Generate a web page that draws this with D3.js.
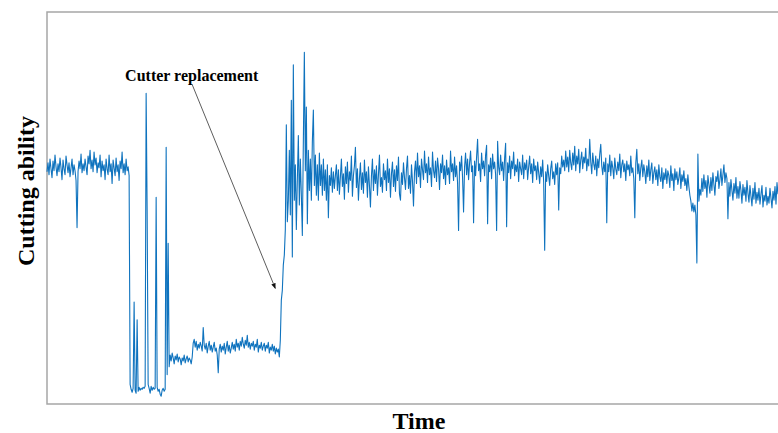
<!DOCTYPE html>
<html>
<head>
  <title>Cutting ability over time</title>
  <script src="https://d3js.org/d3.v7.min.js"></script>
  <style>
  body {
    margin: 0;
    background: #fff;
  }
  .frame {
    fill: none;
    stroke: #a6a6a6;
    stroke-width: 1.5px;
  }
  .signal {
    fill: none;
    stroke: #0f73be;
    stroke-width: 1.1px;
    stroke-linejoin: round;
  }
  .label {
    font-family: "Times New Roman", "Liberation Serif", serif;
    font-weight: bold;
    fill: #000;
  }
</style>
</head>
<body>
  <div id="chart"></div>
  <script>
    // readings, one per time step, split by phase
    var beforeFailure = [
      237, 246, 234, 250, 240, 231, 248, 238, 254, 242, 233, 245, 237, 251, 241, 229, 249, 240, 234, 253,
      244, 236, 246, 232, 241, 250, 234, 244, 238, 228, 180, 237, 248, 240, 255, 236, 245, 238, 250, 242,
      234, 253, 245, 259, 240, 249, 237, 257, 244, 251, 236, 246, 241, 254, 232, 248, 238, 244, 229, 250,
      240, 234, 254, 237, 245, 225, 249, 241, 233, 251, 237, 244, 228, 248, 240, 257, 236, 245, 234, 250,
      238, 242, 233
    ];
    var failure = [
      20, 15, 12, 16, 104, 14, 11, 86, 13, 17,
      14, 16, 15, 17, 16, 18, 317, 198, 20, 16,
      11, 18, 14, 17, 15, 16, 211, 17, 13, 15,
      10, 8, 14, 16, 13, 15, 262, 30, 164, 38
    ];
    var wornCutter = [
      50, 44, 52, 47, 41, 49, 45, 51, 43, 48, 46, 40, 47, 44, 50, 42, 46, 49, 43, 47, 45, 41, 48,
      62, 66, 58, 64, 55, 61, 57, 63, 59, 54,
      78, 60, 56, 62, 52, 59, 64, 55, 60, 53,
      58, 63, 54, 57, 50, 32, 56, 61, 53, 59,
      55, 62, 51, 58, 64, 54, 60, 52, 57, 63,
      56, 61, 54, 66, 58, 62, 55, 64, 59, 68,
      61, 57, 65, 60, 70, 58, 63, 56, 62, 59,
      64, 55, 61, 58, 66, 53, 60, 57, 63, 55,
      59, 62, 54, 60, 57, 63, 52, 58, 55, 61,
      54, 59, 51, 57, 53, 56, 48
    ];
    var restart = [
      65, 106, 116, 142, 152, 178, 285, 186, 208, 259,
      193, 310, 150, 346, 208, 244, 178, 229, 274, 203,
      250, 213, 172, 268, 359, 238, 303, 184, 259, 218,
      250, 208, 268, 300, 223, 254, 213, 244, 208, 256,
      223, 244, 213, 250, 218, 239, 208, 244, 190, 233,
      223, 241, 216, 237, 220, 233
    ];
    var steady = [
      244, 218, 239, 214, 232, 250, 222, 235, 209, 242,
      225, 247, 216, 237, 228, 253, 212, 233, 243, 262,
      221, 240, 208, 230, 246, 219, 236, 215, 249, 226,
      237, 211, 242, 223, 201, 233, 250, 218, 239, 225,
      243, 213, 234, 254, 222, 231, 216, 245, 229, 238,
      218, 250, 226, 240, 211, 235, 247, 222, 239, 217,
      243, 228, 252, 214, 208, 236, 224, 246, 231, 219,
      240, 253, 220, 233, 215, 244, 227, 202, 237, 248,
      225, 256, 232, 243, 221, 250, 239, 229, 258, 236,
      245, 226, 252, 234, 241, 222, 257, 238, 231, 248,
      227, 251, 240, 219, 245, 236, 254, 230, 243, 224,
      249, 234, 241, 225, 258, 237, 245, 228, 252, 232,
      243, 226, 177, 247, 238, 253, 231, 196, 242, 256,
      234, 250, 229, 246, 258, 237, 243, 185, 248, 233,
      252, 270, 238, 245, 227, 256, 240, 248, 233, 254,
      264, 184, 244, 237, 251, 230, 255, 240, 247, 234,
      177, 268, 242, 234, 254, 238, 247, 228, 251, 266,
      181, 246, 236, 253, 230, 248, 240, 257, 233, 244,
      237, 250, 227, 247, 240, 234, 254, 230, 246, 239,
      249, 229, 242, 253, 235, 245, 226, 250, 238, 243,
      229, 247, 236, 225, 242, 232, 249, 226, 157, 237,
      227, 244, 233, 223, 240, 248, 230, 237, 224, 245,
      234, 246, 198, 241, 235, 253, 242, 249, 238, 258,
      242, 252, 237, 259, 246, 239, 256, 244, 263, 238,
      253, 245, 260, 236, 249, 257, 240, 252, 246, 261,
      238, 250, 243, 270, 247, 235, 256, 245, 239, 253,
      233, 250, 241, 255, 265, 243, 234, 247, 237, 251,
      185, 245, 237, 254, 233, 248, 241, 230, 251, 240,
      234, 247, 238, 255, 231, 244, 249, 237, 245, 228,
      248, 239, 244, 233, 253, 236, 241, 230, 190, 246,
      260, 235, 245, 228, 241, 249, 232, 244, 237, 225,
      243, 232, 249, 228, 239, 246, 225, 236, 242, 229,
      239, 223, 244, 232, 227, 241, 220, 236, 229, 240,
      225, 238, 233, 221, 243, 228, 235, 218, 240, 229,
      237, 224, 231, 241, 220, 234, 227, 238, 223, 230,
      218, 234, 222
    ];
    var lateSegment = [
      213, 207, 197, 205, 196, 203, 193, 144, 255, 207, 219,
      213, 230, 217, 234, 220, 228, 211, 233, 224, 215,
      231, 218, 236, 224, 213, 232, 227, 238, 220, 229,
      240, 223, 234, 244, 226, 236, 230,
      189,
      226, 212, 229, 218, 208, 225, 215, 231, 210, 222,
      210, 227, 218, 205, 224, 213, 221, 207, 228, 215,
      206, 223, 212, 202, 220, 209, 226, 205, 216, 208,
      220, 204, 214, 223, 201, 213, 207, 221, 203, 212,
      205, 220, 210, 200, 217, 208, 222, 204, 226, 214
    ];

    var values = [].concat(beforeFailure, failure, wornCutter, restart, steady, lateSegment);

    // annotation
    var noteText = "Cutter replacement";
    var noteTarget = [228, 118];
    var noteAnchor = [78, 330];

    var width = 778;
    var height = 433;
    var margin = { top: 12, left: 47, bottom: 29 };

    var svg = d3.select("#chart").append("svg")
      .attr("width", width)
      .attr("height", height);

    // plot runs off the right side of the picture
    var x = d3.scaleLinear()
      .domain([0, values.length + 3])
      .range([margin.left, margin.left + values.length + 4]);

    var y = d3.scaleLinear()
      .domain([0, 400])
      .range([height - margin.bottom, margin.top]);

    svg.append("rect")
      .attr("class", "frame")
      .attr("x", x(0))
      .attr("y", y(400))
      .attr("width", x(values.length + 3) - x(0))
      .attr("height", y(0) - y(400));

    var line = d3.line()
      .x(function(d, i) { return x(i); })
      .y(function(d) { return y(d); });

    svg.append("path")
      .datum(values)
      .attr("class", "signal")
      .attr("d", line);

    // arrow marker
    svg.append("defs").append("marker")
      .attr("id", "head")
      .attr("viewBox", "0 0 10 10")
      .attr("refX", 9)
      .attr("refY", 5)
      .attr("markerWidth", 7)
      .attr("markerHeight", 7)
      .attr("orient", "auto")
      .append("path")
      .attr("d", "M0,1 L10,5 L0,9 z")
      .attr("fill", "#111");

    svg.append("line")
      .attr("x1", x(noteAnchor[0] + 67))
      .attr("y1", y(noteAnchor[1]) + 4)
      .attr("x2", x(noteTarget[0]))
      .attr("y2", y(noteTarget[1]))
      .attr("stroke", "#333")
      .attr("stroke-width", 0.8)
      .attr("marker-end", "url(#head)");

    svg.append("text")
      .attr("class", "label")
      .attr("x", x(noteAnchor[0]))
      .attr("y", y(noteAnchor[1]))
      .style("font-size", "16px")
      .text(noteText);

    // axis titles
    svg.append("text")
      .attr("class", "label")
      .attr("x", 419)
      .attr("y", 429)
      .attr("text-anchor", "middle")
      .style("font-size", "24px")
      .text("Time");

    svg.append("text")
      .attr("class", "label")
      .attr("transform", "translate(34,191) rotate(-90)")
      .attr("text-anchor", "middle")
      .style("font-size", "24px")
      .text("Cutting ability");
  </script>
</body>
</html>
